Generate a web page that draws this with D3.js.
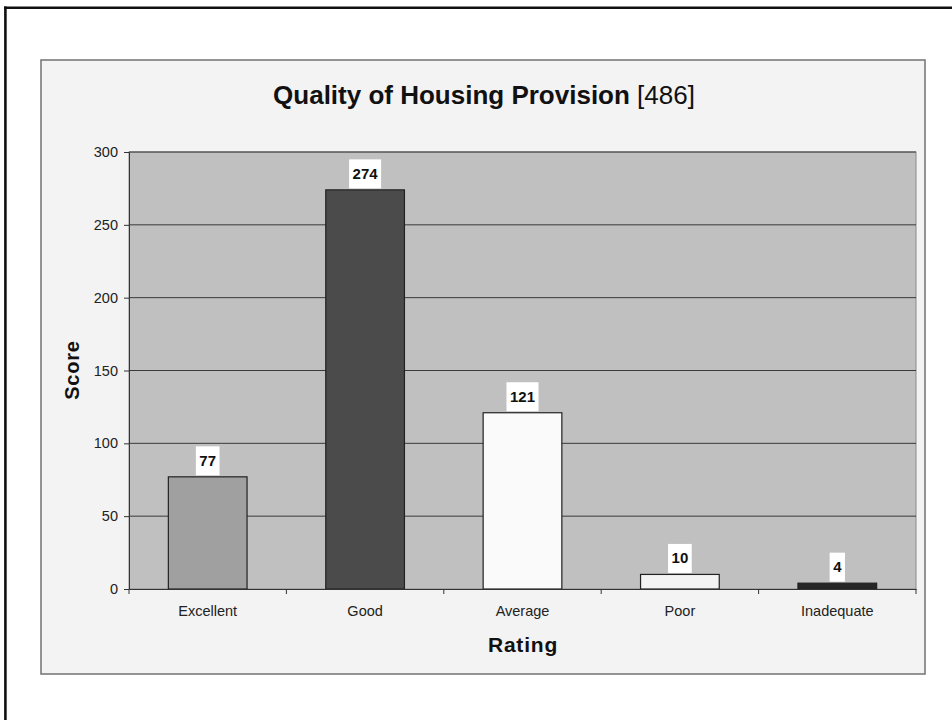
<!DOCTYPE html>
<html>
<head>
<meta charset="utf-8">
<script src="https://d3js.org/d3.v7.min.js"></script>
<style>
body { margin: 0; background: #fff; }
svg { display: block; font-family: Arial, "Liberation Sans", sans-serif; }
</style>
</head>
<body>
<div id="plot"></div>
<script>
var categories = ["Excellent", "Good", "Average", "Poor", "Inadequate"];
var scores = [77, 274, 121, 10, 4];
var barColors = ["#a0a0a0", "#4b4b4b", "#fafafa", "#f3f3f3", "#262626"];
var yTicks = [0, 50, 100, 150, 200, 250, 300];

var width = 952, height = 720;
var plot = { left: 129, right: 916, top: 152, bottom: 589 };

var svg = d3.select("#plot").append("svg")
  .attr("width", width).attr("height", height);

// page frame (only top and left show in the original scan)
svg.append("line").attr("x1", 4).attr("x2", width).attr("y1", 7.8).attr("y2", 7.8)
  .attr("stroke", "#111").attr("stroke-width", 2.6);
svg.append("line").attr("x1", 5.4).attr("x2", 5.4).attr("y1", 6.5).attr("y2", height)
  .attr("stroke", "#111").attr("stroke-width", 2.6);

// chart panel
svg.append("rect").attr("x", 41).attr("y", 60).attr("width", 884).attr("height", 614)
  .attr("fill", "#f3f3f3").attr("stroke", "#7a7a7a").attr("stroke-width", 1.6);

var x = d3.scaleBand().domain(categories).range([plot.left, plot.right])
  .paddingInner(0.5).paddingOuter(0.25);
var y = d3.scaleLinear().domain([0, 300]).range([plot.bottom, plot.top]);

// plot background
svg.append("rect").attr("x", plot.left).attr("y", plot.top)
  .attr("width", plot.right - plot.left).attr("height", plot.bottom - plot.top)
  .attr("fill", "#c0c0c0").attr("stroke", "#8a8a8a").attr("stroke-width", 1);

// gridlines
svg.append("g").selectAll("line").data(yTicks.filter(function (d) { return d > 0; })).enter()
  .append("line")
  .attr("x1", plot.left).attr("x2", plot.right)
  .attr("y1", function (d) { return y(d); }).attr("y2", function (d) { return y(d); })
  .attr("stroke", "#3a3a3a").attr("stroke-width", 1);

// y axis
var yAxis = d3.axisLeft(y).tickValues(yTicks).tickSize(5).tickPadding(6);
var gy = svg.append("g").attr("transform", "translate(" + plot.left + ",0)").call(yAxis);
gy.select(".domain").attr("stroke", "#333");
gy.selectAll(".tick line").attr("stroke", "#333");
gy.selectAll("text").attr("font-size", 14.5).attr("fill", "#222").attr("font-family", "Arial, 'Liberation Sans', sans-serif");

// bars
svg.append("g").selectAll("rect").data(scores).enter()
  .append("rect")
  .attr("x", function (d, i) { return x(categories[i]); })
  .attr("y", function (d) { return y(d); })
  .attr("width", x.bandwidth())
  .attr("height", function (d) { return y(0) - y(d); })
  .attr("fill", function (d, i) { return barColors[i]; })
  .attr("stroke", "#222").attr("stroke-width", 1.2);

// x axis
var xAxis = d3.axisBottom(x).tickSize(0).tickPadding(17);
var gx = svg.append("g").attr("transform", "translate(0," + plot.bottom + ")").call(xAxis);
gx.select(".domain").attr("stroke", "#333");
gx.selectAll("text").attr("font-size", 14.5).attr("fill", "#222").attr("font-family", "Arial, 'Liberation Sans', sans-serif");
// category separators
var edges = categories.map(function (c) { return x(c) - x.step() * x.paddingInner() / 2; });
edges.push(plot.right);
svg.append("g").selectAll("line").data(edges).enter().append("line")
  .attr("x1", function (d) { return d; }).attr("x2", function (d) { return d; })
  .attr("y1", plot.bottom).attr("y2", plot.bottom + 5)
  .attr("stroke", "#333");

// value labels on white boxes
var labels = svg.append("g").selectAll("g").data(scores).enter().append("g");
labels.each(function (d, i) {
  var g = d3.select(this);
  var cx = x(categories[i]) + x.bandwidth() / 2;
  var bottom = y(d) - 1.5;
  var t = g.append("text").attr("x", cx).attr("y", bottom - 9.5)
    .attr("text-anchor", "middle").attr("font-size", 15).attr("font-weight", "bold")
    .attr("fill", "#111").text(d);
  var w = t.node().getComputedTextLength() + 7;
  g.insert("rect", "text").attr("x", cx - w / 2).attr("y", bottom - 29)
    .attr("width", w).attr("height", 29).attr("fill", "#fff");
});

// title
var title = svg.append("text").attr("x", 484).attr("y", 104).attr("text-anchor", "middle")
  .attr("font-size", 26).attr("fill", "#111");
title.append("tspan").attr("font-weight", "bold").text("Quality of Housing Provision ");
title.append("tspan").text("[486]");

// axis titles
svg.append("text").attr("x", 523).attr("y", 652).attr("text-anchor", "middle")
  .attr("font-size", 21).attr("font-weight", "bold").attr("letter-spacing", 0.8)
  .attr("fill", "#111").text("Rating");
svg.append("text").attr("transform", "translate(79,370) rotate(-90)")
  .attr("text-anchor", "middle").attr("font-size", 20).attr("font-weight", "bold")
  .attr("letter-spacing", 0.8).attr("fill", "#111").text("Score");
</script>
</body>
</html>
